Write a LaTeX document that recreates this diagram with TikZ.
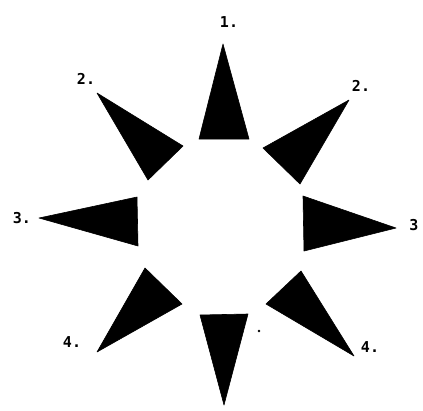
\documentclass[tikz,border=0pt]{standalone}
\usepackage{fontspec}
\setmonofont{DejaVu Sans Mono}
\begin{document}
\begin{tikzpicture}[x=1pt,y=-1pt,
  spike/.style={fill=black,draw=black,line width=0.6pt,line join=round},
  lbl/.style={font=\ttfamily\bfseries\fontsize{15}{15}\selectfont,inner sep=0pt,anchor=center}]
\useasboundingbox (0,0) rectangle (423,410);
% triangles
\fill[spike] (223,44) -- (249,139) -- (199,139) -- cycle;
\fill[spike] (349,100) -- (300,184) -- (263,148) -- cycle;
\fill[spike] (97,93) -- (183,146) -- (148,180) -- cycle;
\fill[spike] (39,218) -- (137,197) -- (138,246) -- cycle;
\fill[spike] (396,228) -- (303,196) -- (304,251) -- cycle;
\fill[spike] (354,356) -- (301,271) -- (266,304) -- cycle;
\fill[spike] (224,405) -- (248,314) -- (200,315) -- cycle;
\fill[spike] (97,352) -- (145,268) -- (182,304) -- cycle;
% labels
\node[lbl] (l1) at (229,22) {1.};
\node[lbl] (l2r) at (361,86) {2.};
\node[lbl] (l2l) at (86,79) {2.};
\node[lbl] (l3l) at (22,218) {3.};
\node[lbl] (l3r) at (414,225) {3};
\node[lbl] (l4r) at (370,347) {4.};
\node[lbl] (l4l) at (72,342) {4.};
\fill (259,331) circle (1.3pt);
\end{tikzpicture}
\end{document}
